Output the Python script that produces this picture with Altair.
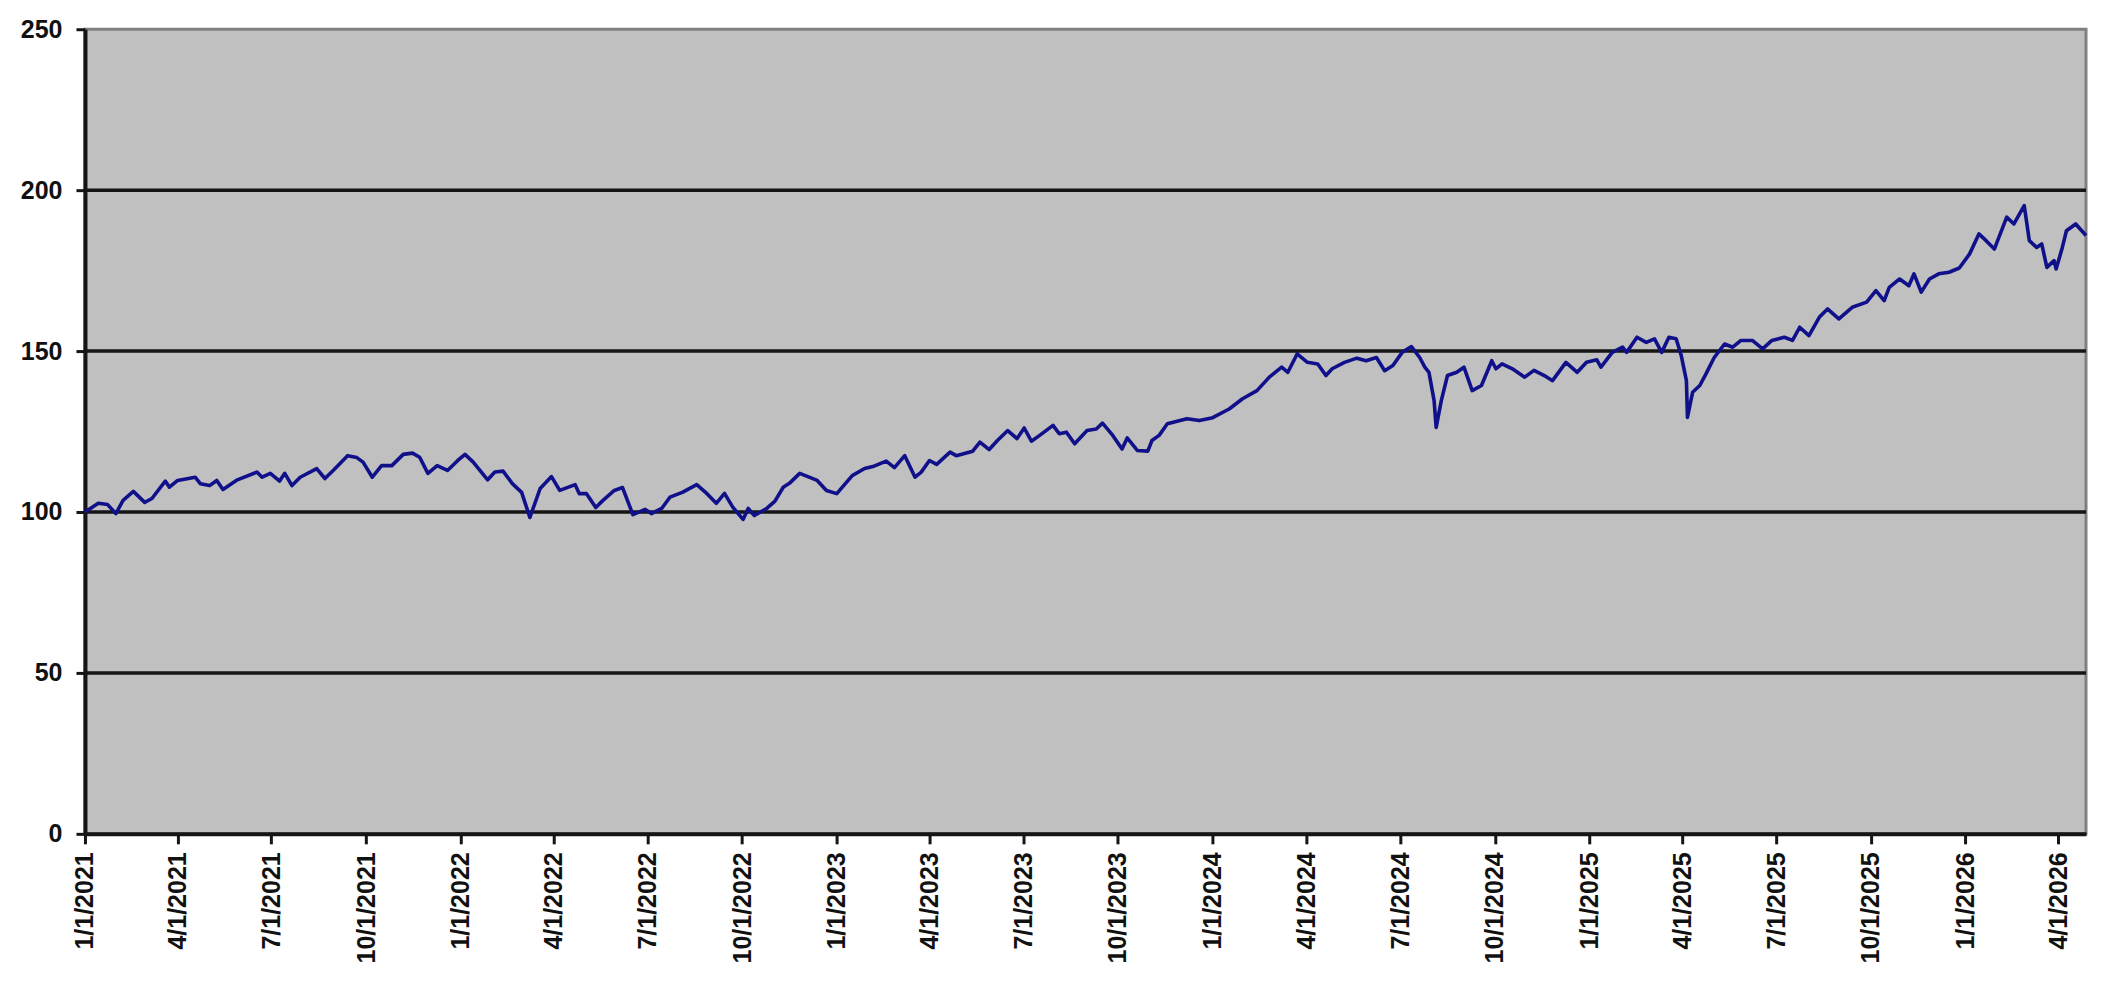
import altair as alt
import pandas as pd

# Days since 1/1/2021 and index values
days = [0, 13, 22, 30, 37, 47, 58, 65, 78, 82, 90, 107, 112, 121, 128, 134, 148, 167, 172, 180,
        189, 194, 201, 209, 225, 233, 241, 255, 264, 270, 279, 288, 298, 309, 318, 325, 333, 342,
        352, 362, 369, 377, 391, 398, 406, 415, 424, 432, 442, 453, 461, 476, 480, 487, 496, 503,
        514, 522, 532, 544, 550, 560, 568, 580, 594, 604, 613, 621, 629, 639, 644, 650, 662, 670,
        678, 684, 694, 711, 720, 730, 745, 757, 765, 778, 786, 796, 806, 812, 820, 827, 840, 846,
        862, 869, 878, 886, 896, 905, 912, 919, 927, 940, 946, 953, 961, 973, 982, 988, 998, 1007,
        1012, 1022, 1032, 1036, 1043, 1051, 1070, 1082, 1095, 1111, 1124, 1138, 1150, 1162, 1168,
        1177, 1187, 1197, 1205, 1211, 1223, 1235, 1244, 1254, 1262, 1270, 1279, 1288, 1296, 1301,
        1305, 1310, 1312, 1317, 1323, 1332, 1339, 1347, 1356, 1366, 1370, 1376, 1386, 1398, 1407,
        1417, 1425, 1438, 1449, 1458, 1468, 1472, 1483, 1493, 1497, 1507, 1516, 1524, 1531, 1538,
        1545, 1550, 1555, 1556, 1561, 1568, 1574, 1582, 1592, 1600, 1608, 1619, 1629, 1638, 1650,
        1658, 1665, 1674, 1684, 1692, 1703, 1716, 1730, 1739, 1747, 1752, 1762, 1771, 1776, 1783,
        1791, 1800, 1810, 1820, 1830, 1839, 1846, 1854, 1866, 1873, 1883, 1888, 1895, 1900, 1905,
        1912, 1914, 1920, 1924, 1933, 1943]

values = [100.0, 102.7, 102.3, 99.5, 103.6, 106.4, 103.0, 104.2, 109.6, 107.7, 109.8, 110.8, 108.8,
          108.2, 109.8, 107.0, 110.0, 112.4, 110.8, 112.0, 109.6, 112.0, 108.2, 110.8, 113.5, 110.4,
          112.9, 117.5, 116.9, 115.5, 110.8, 114.4, 114.4, 117.9, 118.3, 117.0, 112.0, 114.4, 112.9,
          116.0, 117.9, 115.5, 110.0, 112.4, 112.7, 108.8, 106.1, 98.3, 107.3, 111.0, 106.7, 108.5,
          105.7, 105.7, 101.4, 103.6, 106.7, 107.6, 99.2, 100.8, 99.5, 101.1, 104.6, 106.1, 108.5,
          105.7, 102.7, 105.8, 101.5, 97.7, 101.1, 98.9, 101.1, 103.4, 107.7, 108.9, 112.0, 109.8,
          106.7, 105.7, 111.3, 113.5, 114.1, 115.8, 113.8, 117.5, 110.8, 112.4, 116.0, 114.8, 118.6,
          117.5, 118.9, 121.7, 119.4, 122.2, 125.3, 122.8, 126.1, 122.0, 123.8, 126.9, 124.3, 124.8,
          121.2, 125.3, 125.8, 127.6, 123.8, 119.6, 123.0, 119.1, 118.9, 122.2, 123.8, 127.4, 129.0,
          128.4, 129.3, 132.0, 135.2, 137.7, 141.9, 145.0, 143.4, 149.1, 146.5, 146.0, 142.4, 144.5,
          146.5, 147.8, 147.0, 148.0, 143.9, 145.5, 149.6, 151.4, 148.0, 145.0, 143.4, 134.6, 126.3,
          134.6, 142.4, 143.4, 145.0, 137.7, 139.3, 147.0, 144.5, 146.0, 144.5, 141.9, 144.0, 142.4,
          140.8, 146.5, 143.4, 146.5, 147.3, 145.0, 149.6, 151.2, 149.6, 154.3, 152.7, 153.8, 149.6,
          154.3, 153.8, 148.6, 140.8, 129.4, 137.2, 139.3, 142.9, 148.0, 152.2, 151.2, 153.3, 153.3,
          150.7, 153.3, 154.3, 153.3, 157.4, 154.8, 160.5, 163.1, 160.0, 163.6, 165.2, 168.8, 165.7,
          169.8, 172.4, 170.3, 174.0, 168.3, 172.4, 174.0, 174.5, 175.8, 180.2, 186.4, 184.3, 181.7,
          191.6, 189.5, 195.2, 184.3, 182.2, 183.3, 176.0, 178.1, 175.5, 182.2, 187.4, 189.5, 185.9]

grid_levels = [50, 100, 150, 200]
y_ticks = [0, 50, 100, 150, 200, 250]
tick_months = [(y, m) for y in range(2021, 2027) for m in (1, 4, 7, 10)][:22]

start = pd.Timestamp("2021-01-01")
df = pd.DataFrame({"date": start + pd.to_timedelta(days, unit="D"), "value": values})
grid_df = pd.DataFrame({"level": grid_levels})

tick_values = [alt.DateTime(year=y, month=m, date=1) for y, m in tick_months]
last = df["date"].max()
x_domain = [alt.DateTime(year=2021, month=1, date=1),
            alt.DateTime(year=int(last.year), month=int(last.month), date=int(last.day))]

FONT = "Liberation Sans"

x_enc = alt.X(
    "date:T",
    scale=alt.Scale(domain=x_domain, nice=False),
    axis=alt.Axis(
        values=tick_values, format="%-m/%-d/%Y", labelAngle=270, title=None,
        grid=False, tickSize=10, tickWidth=3, tickColor="#151515",
        domainColor="#151515", domainWidth=4, labelPadding=8,
        labelFontSize=25, labelFontWeight="bold", labelFont=FONT,
        labelColor="#111111", labelOverlap=False,
    ),
)
y_scale = alt.Scale(domain=[0, 250], nice=False)
y_axis = alt.Axis(
    values=y_ticks, title=None, grid=False, tickSize=9, tickWidth=3, tickColor="#151515",
    domainColor="#151515", domainWidth=4, labelPadding=14,
    labelFontSize=25, labelFontWeight="bold", labelFont=FONT, labelColor="#111111",
)

grid = alt.Chart(grid_df).mark_rule(color="#151515", strokeWidth=3.5).encode(
    y=alt.Y("level:Q", scale=y_scale, axis=y_axis)
)

line = alt.Chart(df).mark_line(color="#10108a", strokeWidth=3.6, strokeJoin="round").encode(
    x=x_enc,
    y=alt.Y("value:Q", scale=y_scale, axis=y_axis),
)

chart = alt.layer(grid, line).properties(
    width=2002,
    height=805,
    autosize=alt.AutoSizeParams(type="none"),
    padding={"left": 77, "top": 21, "right": 10, "bottom": 150},
    background="#ffffff",
).configure_view(
    fill="#C0C0C0", stroke="#808080", strokeWidth=3
)

chart.save("out.html", embed_options={"renderer": "svg", "actions": False})
